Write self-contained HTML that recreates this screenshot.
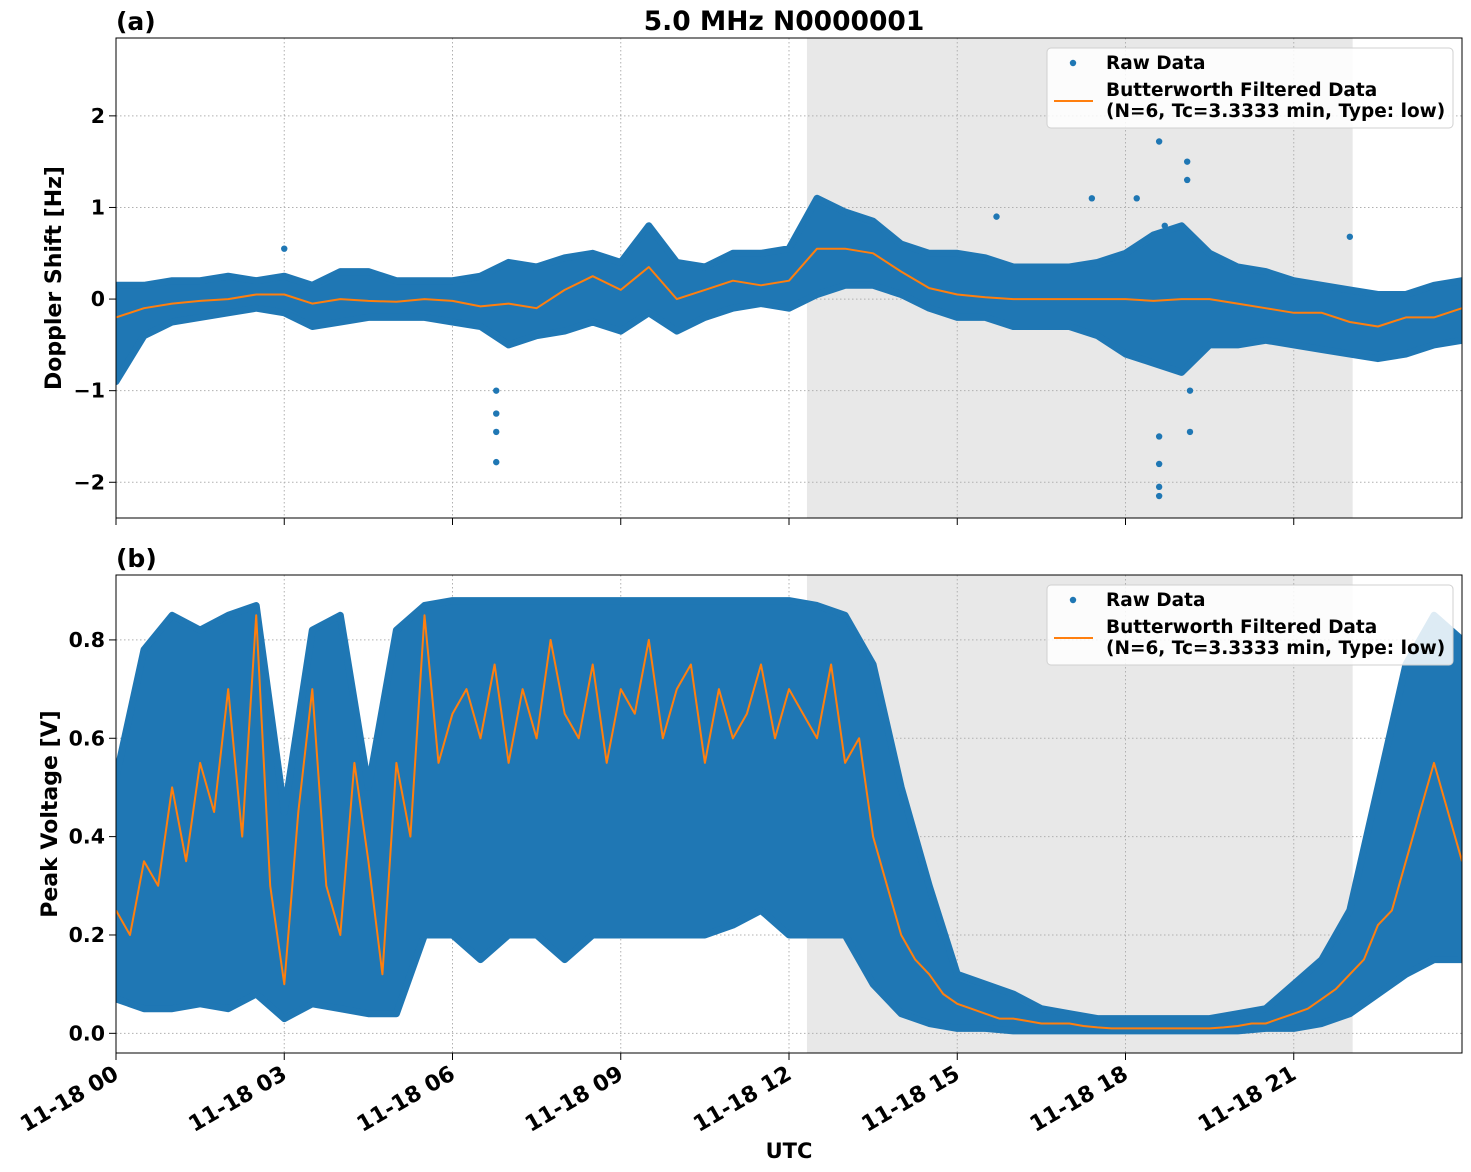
<!DOCTYPE html>
<html><head><meta charset="utf-8">
<style>
html,body{margin:0;padding:0;background:#fff;}
svg{display:block;font-family:"DejaVu Sans","Liberation Sans",sans-serif;font-weight:bold;}
</style></head>
<body>
<svg id="chart" width="1471" height="1172" viewBox="0 0 1471 1172" xmlns="http://www.w3.org/2000/svg">
<defs>
<clipPath id="clipA"><rect x="116" y="38" width="1346" height="480"/></clipPath>
<clipPath id="clipB"><rect x="116" y="575" width="1346" height="478"/></clipPath>
</defs>
<g id="root"></g>
</svg>
<script>
// ---- data (hours, step 0.5 for envelopes) ----
const hoursHalf = Array.from({length:49},(_, i)=>i*0.5);
const hoursQuarter = Array.from({length:97},(_, i)=>i*0.25);
const dopplerUpper = [0.15,0.15,0.2,0.2,0.25,0.2,0.25,0.15,0.3,0.3,0.2,0.2,0.2,0.25,0.4,0.35,0.45,0.5,0.4,0.8,0.4,0.35,0.5,0.5,0.55,1.1,0.95,0.85,0.6,0.5,0.5,0.45,0.35,0.35,0.35,0.4,0.5,0.7,0.8,0.5,0.35,0.3,0.2,0.15,0.1,0.05,0.05,0.15,0.2];
const dopplerLower = [-0.9,-0.4,-0.25,-0.2,-0.15,-0.1,-0.15,-0.3,-0.25,-0.2,-0.2,-0.2,-0.25,-0.3,-0.5,-0.4,-0.35,-0.25,-0.35,-0.15,-0.35,-0.2,-0.1,-0.05,-0.1,0.05,0.15,0.15,0.05,-0.1,-0.2,-0.2,-0.3,-0.3,-0.3,-0.4,-0.6,-0.7,-0.8,-0.5,-0.5,-0.45,-0.5,-0.55,-0.6,-0.65,-0.6,-0.5,-0.45];
const dopplerFiltered = [-0.2,-0.1,-0.05,-0.02,0.0,0.05,0.05,-0.05,0.0,-0.02,-0.03,0.0,-0.02,-0.08,-0.05,-0.1,0.1,0.25,0.1,0.35,0.0,0.1,0.2,0.15,0.2,0.55,0.55,0.5,0.3,0.12,0.05,0.02,0.0,0.0,0.0,0.0,0.0,-0.02,0.0,0.0,-0.05,-0.1,-0.15,-0.15,-0.25,-0.3,-0.2,-0.2,-0.1];
const dopplerOutlierHours = [6.78,6.78,6.78,6.78,18.6,18.6,18.6,18.6,18.6,19.1,19.1,19.15,19.15,17.4,15.7,3.0,22.0,18.2,18.7,19.0];
const dopplerOutlierValues = [-1.78,-1.45,-1.25,-1.0,-2.15,-2.05,-1.8,-1.5,1.72,1.5,1.3,-1.45,-1.0,1.1,0.9,0.55,0.68,1.1,0.8,-0.8];
const voltUpper = [0.52,0.78,0.85,0.82,0.85,0.87,0.45,0.82,0.85,0.5,0.82,0.87,0.88,0.88,0.88,0.88,0.88,0.88,0.88,0.88,0.88,0.88,0.88,0.88,0.88,0.87,0.85,0.75,0.5,0.3,0.12,0.1,0.08,0.05,0.04,0.03,0.03,0.03,0.03,0.03,0.04,0.05,0.1,0.15,0.25,0.5,0.75,0.85,0.8];
const voltLower = [0.07,0.05,0.05,0.06,0.05,0.08,0.03,0.06,0.05,0.04,0.04,0.2,0.2,0.15,0.2,0.2,0.15,0.2,0.2,0.2,0.2,0.2,0.22,0.25,0.2,0.2,0.2,0.1,0.04,0.02,0.01,0.01,0.005,0.005,0.005,0.005,0.005,0.005,0.005,0.005,0.005,0.01,0.01,0.02,0.04,0.08,0.12,0.15,0.15];
const voltFiltered = [0.25,0.2,0.35,0.3,0.5,0.35,0.55,0.45,0.7,0.4,0.85,0.3,0.1,0.45,0.7,0.3,0.2,0.55,0.35,0.12,0.55,0.4,0.85,0.55,0.65,
0.7,0.6,0.75,0.55,0.7,0.6,0.8,0.65,0.6,0.75,0.55,0.7,0.65,0.8,0.6,0.7,0.75,0.55,0.7,0.6,0.65,0.75,0.6,
0.7,
0.65,0.6,0.75,0.55,0.6,0.4,0.3,0.2,0.15,0.12,0.08,0.06,0.05,0.04,0.03,0.03,0.025,0.02,0.02,0.02,0.015,0.012,0.01,0.01,0.01,0.01,0.01,0.01,0.01,0.01,0.012,0.015,0.02,0.02,0.03,0.04,0.05,0.07,0.09,0.12,0.15,0.22,0.25,0.35,0.45,0.55,0.45,0.35];
const xTickHours = [0,3,6,9,12,15,18,21];
const xTickLabels = ["11-18 00","11-18 03","11-18 06","11-18 09","11-18 12","11-18 15","11-18 18","11-18 21"];
const yTicksA = [-2,-1,0,1,2];
const yTicksB = [0.0,0.2,0.4,0.6,0.8];
const shadeStart = 12.32, shadeEnd = 22.05;

// ---- layout ----
const X0=116, X1=1462;
const A={top:38,bot:518,min:-2.39,max:2.85};
const B={top:575,bot:1053,min:-0.04,max:0.932};
const xs = h => X0 + (h/24)*(X1-X0);
const ysOf = P => v => P.bot - (v-P.min)/(P.max-P.min)*(P.bot-P.top);
const yA = ysOf(A), yB = ysOf(B);
const NS="http://www.w3.org/2000/svg";
const root=document.getElementById('root');
function mk(tag, attrs, parent, text){
  const e=document.createElementNS(NS,tag);
  for(const k in attrs) e.setAttribute(k,attrs[k]);
  if(text!==undefined) e.textContent=text;
  (parent||root).appendChild(e);
  return e;
}
const fmtA = v => (v<0?"\u2212":"")+Math.abs(v);
const fmtB = v => v.toFixed(1);

function panel(P, ys, ticks, fmt, clip, upper, lower, filtHours, filt, outH, outV, label, ytitle, ytitleX, nameP){
  const g=mk('g',{});
  
  
  const sh=mk('rect',{x:xs(shadeStart),y:P.top,width:xs(shadeEnd)-xs(shadeStart),height:P.bot-P.top,fill:'#e8e8e8'},g);
  
  
  xTickHours.forEach(h=>{ if(h>0) mk('line',{x1:xs(h),x2:xs(h),y1:P.top,y2:P.bot,stroke:'#b0b0b0','stroke-width':1,'stroke-dasharray':'1.5,2.5'},g); });
  ticks.forEach(v=>mk('line',{x1:X0,x2:X1,y1:ys(v),y2:ys(v),stroke:'#b0b0b0','stroke-width':1,'stroke-dasharray':'1.5,2.5'},g));
  const dg=mk('g',{'clip-path':`url(#${clip})`},g);
  let d='';
  hoursHalf.forEach((h,i)=>{ d+=(i?'L':'M')+xs(h).toFixed(1)+','+ys(upper[i]).toFixed(1); });
  for(let i=hoursHalf.length-1;i>=0;i--) d+='L'+xs(hoursHalf[i]).toFixed(1)+','+ys(lower[i]).toFixed(1);
  d+='Z';
  const band=mk('path',{d:d,fill:'#1f77b4',stroke:'#1f77b4','stroke-width':7,'stroke-linejoin':'round'},dg);
  
  
  outH.forEach((h,i)=>{
    const c=mk('circle',{cx:xs(h),cy:ys(outV[i]),r:3.2,fill:'#1f77b4'},dg);
    
    
  });
  let fd='';
  filtHours.forEach((h,i)=>{ fd+=(i?'L':'M')+xs(h).toFixed(1)+','+ys(filt[i]).toFixed(1); });
  const fl=mk('path',{d:fd,fill:'none',stroke:'#ff7f0e','stroke-width':2,'stroke-linejoin':'round'},dg);
  
  
  mk('rect',{x:X0,y:P.top,width:X1-X0,height:P.bot-P.top,fill:'none',stroke:'#000','stroke-width':1},g);
  ticks.forEach(v=>{
    mk('line',{x1:X0-7,x2:X0,y1:ys(v),y2:ys(v),stroke:'#000','stroke-width':1},g);
    const t=mk('text',{x:X0-11,y:ys(v)+7,'text-anchor':'end','font-size':20.5},g,fmt(v));
    
    
  });
  xTickHours.forEach(h=>mk('line',{x1:xs(h),x2:xs(h),y1:P.bot,y2:P.bot+7,stroke:'#000','stroke-width':1},g));
  const lb=mk('text',{x:116,y:P.top-8,'font-size':25},g,label);
  
  
  const yt=mk('text',{x:ytitleX,y:(P.top+P.bot)/2,'text-anchor':'middle','font-size':22,transform:`rotate(-90 ${ytitleX} ${(P.top+P.bot)/2})`},g,ytitle);
  
  
  const ly=P.top+10;
  const lg=mk('g',{},g);
  
  
  mk('rect',{x:1047,y:ly,width:406,height:80,rx:4,fill:'#fff','fill-opacity':0.85,stroke:'#d0d0d0'},lg);
  mk('circle',{cx:1073,cy:ly+15,r:3.2,fill:'#1f77b4'},lg);
  mk('text',{x:1106,y:ly+21,'font-size':18.5},lg,'Raw Data');
  mk('line',{x1:1054,x2:1093,y1:ly+53,y2:ly+53,stroke:'#ff7f0e','stroke-width':2},lg);
  mk('text',{x:1106,y:ly+48,'font-size':18.5},lg,'Butterworth Filtered Data');
  mk('text',{x:1106,y:ly+69,'font-size':18.5},lg,'(N=6, Tc=3.3333 min, Type: low)');
}
panel(A,yA,yTicksA,fmtA,'clipA',dopplerUpper,dopplerLower,hoursHalf,dopplerFiltered,dopplerOutlierHours,dopplerOutlierValues,'(a)','Doppler Shift [Hz]',61,'doppler');
panel(B,yB,yTicksB,fmtB,'clipB',voltUpper,voltLower,hoursQuarter,voltFiltered,[],[],'(b)','Peak Voltage [V]',57,'voltage');

const title=mk('text',{x:784,y:30,'text-anchor':'middle','font-size':26.5},root,'5.0 MHz N0000001');


xTickHours.forEach((h,i)=>{
  const x=xs(h)+4, y=B.bot+25;
  const t=mk('text',{x:x,y:y,'text-anchor':'end','font-size':22,transform:`rotate(-30 ${x} ${y})`},root,xTickLabels[i]);
  
  
});
const xt=mk('text',{x:789,y:1158,'text-anchor':'middle','font-size':21},root,'UTC');


</script>
</body></html>
